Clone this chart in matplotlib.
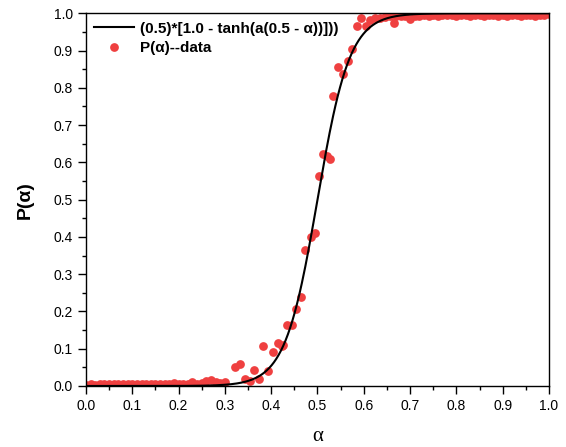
import numpy as np
import matplotlib.pyplot as plt
from matplotlib.ticker import MultipleLocator

# measured points, flat low part (alpha 0.00 .. 0.30)
low_x = [0.00, 0.01, 0.02, 0.03, 0.04, 0.05, 0.06, 0.07, 0.08, 0.09, 0.10,
         0.11, 0.12, 0.13, 0.14, 0.15, 0.16, 0.17, 0.18, 0.19, 0.20,
         0.21, 0.22, 0.23, 0.24, 0.25, 0.26, 0.27, 0.28, 0.29, 0.30]
low_y = [0.002, 0.004, 0.003, 0.005, 0.004, 0.005, 0.004, 0.006, 0.005, 0.005, 0.006,
         0.005, 0.006, 0.005, 0.004, 0.006, 0.005, 0.005, 0.004, 0.009, 0.005,
         0.006, 0.005, 0.010, 0.006, 0.007, 0.013, 0.016, 0.010, 0.008, 0.011]

# transition region
mid_x = [0.322, 0.333, 0.343, 0.354, 0.363, 0.373, 0.383, 0.394, 0.404, 0.414,
         0.424, 0.425, 0.434, 0.446, 0.454, 0.464, 0.473, 0.485, 0.494, 0.503,
         0.513, 0.520, 0.527, 0.534, 0.545, 0.555, 0.567, 0.574, 0.586, 0.595,
         0.604, 0.613, 0.624, 0.635, 0.646, 0.657, 0.665]
mid_y = [0.052, 0.059, 0.019, 0.013, 0.043, 0.018, 0.108, 0.040, 0.090, 0.116,
         0.108, 0.110, 0.164, 0.164, 0.206, 0.240, 0.366, 0.400, 0.410, 0.563,
         0.623, 0.616, 0.609, 0.778, 0.856, 0.836, 0.872, 0.905, 0.966, 0.986,
         0.966, 0.982, 0.986, 0.988, 0.991, 0.992, 0.973]

# flat high part (alpha 0.67 .. 1.00)
high_x = [0.67, 0.68, 0.69, 0.70, 0.71, 0.72, 0.73, 0.74, 0.75, 0.76, 0.77, 0.78,
          0.79, 0.80, 0.81, 0.82, 0.83, 0.84, 0.85, 0.86, 0.87, 0.88,
          0.89, 0.90, 0.91, 0.92, 0.93, 0.94, 0.95, 0.96, 0.97, 0.98, 0.99, 1.00]
high_y = [0.993, 0.994, 0.993, 0.985, 0.992, 0.994, 0.996, 0.993, 0.995, 0.994, 0.996, 0.995,
          0.995, 0.994, 0.996, 0.995, 0.993, 0.995, 0.996, 0.994, 0.995, 0.996,
          0.994, 0.995, 0.993, 0.996, 0.995, 0.994, 0.996, 0.995, 0.994, 0.996, 0.995, 0.997]

# fit parameter of the tanh curve
a_fit = 14.3

data_x = low_x + mid_x + high_x
data_y = low_y + mid_y + high_y

fig = plt.figure(figsize=(5.66, 4.47), dpi=100)
ax = fig.add_axes([0.1519, 0.1365, 0.818, 0.8338])

alpha = np.linspace(0, 1, 400)
fit = 0.5 * (1.0 - np.tanh(a_fit * (0.5 - alpha)))
ax.plot(alpha, fit, color='black', lw=1.5, label='(0.5)*[1.0 - tanh(a(0.5 - α))]))', zorder=3)
ax.plot(data_x, data_y, 'o', color='#EF4040', ms=6.3, mec='none', label='P(α)--data', zorder=2)

ax.set_xlim(0, 1)
ax.set_ylim(0, 1)
ax.xaxis.set_major_locator(MultipleLocator(0.1))
ax.xaxis.set_minor_locator(MultipleLocator(0.05))
ax.yaxis.set_major_locator(MultipleLocator(0.1))
ax.yaxis.set_minor_locator(MultipleLocator(0.05))
ax.tick_params(which='major', direction='out', length=6, width=1, labelsize=10)
ax.tick_params(which='minor', direction='out', length=3, width=1)
for lab in ax.get_xticklabels() + ax.get_yticklabels():
    lab.set_fontfamily('Liberation Sans')
for s in ax.spines.values():
    s.set_linewidth(1)

ax.set_xlabel('α', fontsize=15, family='Liberation Serif', labelpad=10)
ax.set_ylabel('P(α)', fontsize=14, fontweight='bold', family='Liberation Sans', labelpad=14)

leg = ax.legend(loc='upper left', frameon=False,
                prop={'family': 'Liberation Sans', 'weight': 'bold', 'size': 11},
                handlelength=2.6, borderaxespad=0.15, handletextpad=0.4, labelspacing=0.35)

fig.savefig('out.png', dpi=100)
